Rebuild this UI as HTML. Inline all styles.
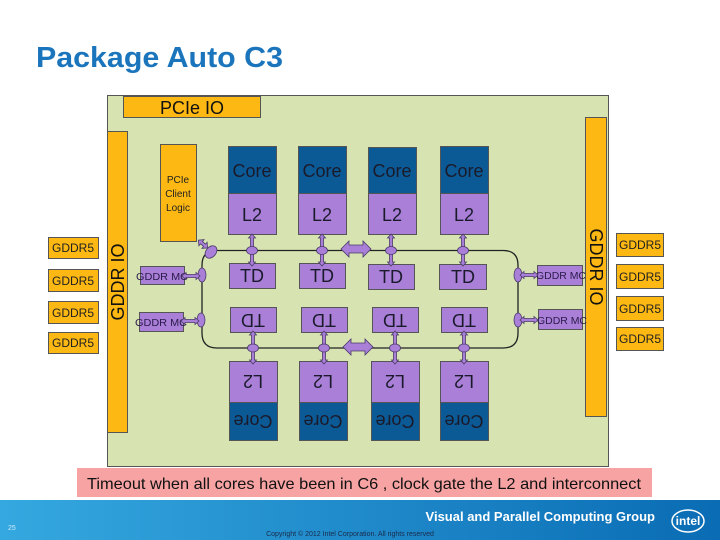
<!DOCTYPE html>
<html><head><meta charset="utf-8"><style>
html,body{margin:0;padding:0;width:720px;height:540px;overflow:hidden;background:#fff}
svg{display:block}
</style></head><body>
<svg width="720" height="540" viewBox="0 0 720 540" xmlns="http://www.w3.org/2000/svg" font-family="Liberation Sans, sans-serif">
<defs>
<linearGradient id="ft" x1="0" y1="0" x2="1" y2="0">
<stop offset="0" stop-color="#35a8e0"/><stop offset="1" stop-color="#0a6cb4"/>
</linearGradient>
<g id="varr"><path d="M0,-9 L3.5,-5 L1.5,-5 L1.5,5 L3.5,5 L0,9 L-3.5,5 L-1.5,5 L-1.5,-5 L-3.5,-5 Z" fill="#a97fd8" stroke="#4a3a6a" stroke-width="0.8"/></g>
<g id="harr"><path d="M-9,0 L-5,-3.5 L-5,-1.5 L5,-1.5 L5,-3.5 L9,0 L5,3.5 L5,1.5 L-5,1.5 L-5,3.5 Z" fill="#a97fd8" stroke="#4a3a6a" stroke-width="0.8"/></g>
<g id="bigh"><path d="M-15,0 L-7,-8 L-7,-4 L7,-4 L7,-8 L15,0 L7,8 L7,4 L-7,4 L-7,8 Z" fill="#a97fd8" stroke="#4a3a6a" stroke-width="0.8"/></g>
</defs>
<text x="36" y="67" font-size="29" font-weight="bold" fill="#1b75bc" textLength="247" lengthAdjust="spacingAndGlyphs">Package Auto C3</text>

<rect x="107.5" y="95.5" width="501" height="371" fill="#d7e4b2" stroke="#555" stroke-width="1"/>
<rect x="123.5" y="96.5" width="137" height="21" fill="#fdb813" stroke="#555"/>
<text x="192" y="114" font-size="18" text-anchor="middle" fill="#111">PCIe IO</text>

<rect x="107.5" y="131.5" width="20" height="301" fill="#fdb813" stroke="#555"/>
<text transform="translate(124,282) rotate(-90)" font-size="18" text-anchor="middle" fill="#111">GDDR IO</text>
<rect x="585.5" y="117.5" width="21" height="299" fill="#fdb813" stroke="#555"/>
<text transform="translate(590,267) rotate(90)" font-size="18" text-anchor="middle" fill="#111">GDDR IO</text>

<rect x="160.5" y="144.5" width="36" height="97" fill="#fdb813" stroke="#555"/>
<text x="178" y="183" font-size="10" text-anchor="middle" fill="#222">PCIe</text>
<text x="178" y="197" font-size="10" text-anchor="middle" fill="#222">Client</text>
<text x="178" y="211" font-size="10" text-anchor="middle" fill="#222">Logic</text>

<!-- bus -->
<path d="M217,250.5 L503,250.5 Q518,250.5 518,265 L518,333 Q518,348 503,348 L217,348 Q202,348 202,333 L202,265 Q202,250.5 217,250.5 Z" fill="none" stroke="#222" stroke-width="1.3"/>

<!-- columns -->
<g stroke="#555" stroke-width="1">
<rect x="228.5" y="146.5" width="48" height="47" fill="#0b5a96"/><rect x="228.5" y="193.5" width="48" height="41" fill="#a97fd8"/>
<rect x="298.5" y="146.5" width="48" height="47" fill="#0b5a96"/><rect x="298.5" y="193.5" width="48" height="41" fill="#a97fd8"/>
<rect x="368.5" y="147.5" width="48" height="46" fill="#0b5a96"/><rect x="368.5" y="193.5" width="48" height="41" fill="#a97fd8"/>
<rect x="440.5" y="146.5" width="48" height="47" fill="#0b5a96"/><rect x="440.5" y="193.5" width="48" height="41" fill="#a97fd8"/>
<rect x="229.5" y="263.5" width="46" height="25" fill="#a97fd8"/>
<rect x="299.5" y="263.5" width="46" height="25" fill="#a97fd8"/>
<rect x="368.5" y="264.5" width="46" height="25" fill="#a97fd8"/>
<rect x="439.5" y="264.5" width="47" height="25" fill="#a97fd8"/>
<rect x="230.5" y="307.5" width="46" height="25" fill="#a97fd8"/>
<rect x="301.5" y="307.5" width="46" height="25" fill="#a97fd8"/>
<rect x="372.5" y="307.5" width="46" height="25" fill="#a97fd8"/>
<rect x="441.5" y="307.5" width="46" height="25" fill="#a97fd8"/>
<rect x="229.5" y="361.5" width="48" height="41" fill="#a97fd8"/><rect x="229.5" y="402.5" width="48" height="38" fill="#0b5a96"/>
<rect x="299.5" y="361.5" width="48" height="41" fill="#a97fd8"/><rect x="299.5" y="402.5" width="48" height="38" fill="#0b5a96"/>
<rect x="371.5" y="361.5" width="48" height="41" fill="#a97fd8"/><rect x="371.5" y="402.5" width="48" height="38" fill="#0b5a96"/>
<rect x="440.5" y="361.5" width="48" height="41" fill="#a97fd8"/><rect x="440.5" y="402.5" width="48" height="38" fill="#0b5a96"/>
</g>
<g font-size="18" text-anchor="middle" fill="#1a1a2a">
<text x="252" y="177">Core</text><text x="322" y="177">Core</text><text x="392" y="177">Core</text><text x="464" y="177">Core</text>
<text x="252" y="221">L2</text><text x="322" y="221">L2</text><text x="392" y="221">L2</text><text x="464" y="221">L2</text>
<text x="252" y="282">TD</text><text x="322" y="282">TD</text><text x="391" y="283">TD</text><text x="463" y="283">TD</text>
</g>
<g font-size="18" text-anchor="middle" fill="#1a1a2a">
<text transform="translate(253,314) rotate(180)">TD</text>
<text transform="translate(324,314) rotate(180)">TD</text>
<text transform="translate(395,314) rotate(180)">TD</text>
<text transform="translate(464,314) rotate(180)">TD</text>
<text transform="translate(253,375) rotate(180)">L2</text>
<text transform="translate(323,375) rotate(180)">L2</text>
<text transform="translate(395,375) rotate(180)">L2</text>
<text transform="translate(464,375) rotate(180)">L2</text>
<text transform="translate(253,415) rotate(180)">Core</text>
<text transform="translate(323,415) rotate(180)">Core</text>
<text transform="translate(395,415) rotate(180)">Core</text>
<text transform="translate(464,415) rotate(180)">Core</text>
</g>

<!-- vertical arrows & ovals -->
<g>
<use href="#varr" x="252" y="243"/><use href="#varr" x="252" y="257"/>
<use href="#varr" x="322" y="243"/><use href="#varr" x="322" y="257"/>
<use href="#varr" x="391" y="243"/><use href="#varr" x="391" y="257"/>
<use href="#varr" x="463" y="243"/><use href="#varr" x="463" y="257"/>
<use href="#varr" x="253" y="340"/><use href="#varr" x="253" y="355"/>
<use href="#varr" x="324" y="340"/><use href="#varr" x="324" y="355"/>
<use href="#varr" x="395" y="340"/><use href="#varr" x="395" y="355"/>
<use href="#varr" x="464" y="340"/><use href="#varr" x="464" y="355"/>
</g>
<g fill="#a97fd8" stroke="#4a3a6a" stroke-width="0.8">
<ellipse cx="252" cy="250.5" rx="5.5" ry="4"/><ellipse cx="322" cy="250.5" rx="5.5" ry="4"/>
<ellipse cx="391" cy="250.5" rx="5.5" ry="4"/><ellipse cx="463" cy="250.5" rx="5.5" ry="4"/>
<ellipse cx="253" cy="348" rx="5.5" ry="4"/><ellipse cx="324" cy="348" rx="5.5" ry="4"/>
<ellipse cx="395" cy="348" rx="5.5" ry="4"/><ellipse cx="464" cy="348" rx="5.5" ry="4"/>
<ellipse cx="202" cy="275" rx="4" ry="7"/><ellipse cx="201" cy="320" rx="4" ry="7"/>
<ellipse cx="518" cy="275" rx="4" ry="7"/><ellipse cx="518" cy="320" rx="4" ry="7"/>
<ellipse cx="211" cy="252" rx="5" ry="7" transform="rotate(40 211 252)"/>
</g>
<use href="#bigh" x="356" y="249"/>
<use href="#bigh" x="358" y="347"/>
<g transform="translate(203,244) rotate(40)"><path d="M-6,0 L-2,-4 L-2,-1.5 L2,-1.5 L2,-4 L6,0 L2,4 L2,1.5 L-2,1.5 L-2,4 Z" fill="#a97fd8" stroke="#4a3a6a" stroke-width="0.8"/></g>

<!-- GDDR MC -->
<g stroke="#555" fill="#a97fd8">
<rect x="140.5" y="266.5" width="44" height="18"/>
<rect x="139.5" y="312.5" width="44" height="19"/>
<rect x="537.5" y="265.5" width="45" height="20"/>
<rect x="538.5" y="309.5" width="44" height="20"/>
</g>
<g font-size="10" fill="#2a1a4a">
<text x="136" y="280" textLength="52" lengthAdjust="spacingAndGlyphs">GDDR MC</text>
<text x="135" y="326" textLength="52" lengthAdjust="spacingAndGlyphs">GDDR MC</text>
<text x="536" y="279" textLength="50" lengthAdjust="spacingAndGlyphs">GDDR MC</text>
<text x="537" y="324" textLength="50" lengthAdjust="spacingAndGlyphs">GDDR MC</text>
</g>
<use href="#harr" x="191" y="276" transform="translate(0,0)"/>
<use href="#harr" x="190" y="321"/>
<use href="#harr" x="529" y="275"/>
<use href="#harr" x="529" y="320"/>

<!-- GDDR5 -->
<g stroke="#555" fill="#fdb813">
<rect x="48.5" y="237.5" width="50" height="21"/><rect x="48.5" y="269.5" width="50" height="22"/>
<rect x="48.5" y="301.5" width="50" height="22"/><rect x="48.5" y="332.5" width="50" height="21"/>
<rect x="616.5" y="233.5" width="47" height="23"/><rect x="616.5" y="264.5" width="47" height="24"/>
<rect x="616.5" y="296.5" width="47" height="24"/><rect x="616.5" y="327.5" width="47" height="23"/>
</g>
<g font-size="12" fill="#222" text-anchor="middle">
<text x="73" y="252">GDDR5</text><text x="73" y="285">GDDR5</text><text x="73" y="317">GDDR5</text><text x="73" y="347">GDDR5</text>
<text x="640" y="249">GDDR5</text><text x="640" y="281">GDDR5</text><text x="640" y="313">GDDR5</text><text x="640" y="343">GDDR5</text>
</g>

<rect x="77" y="468" width="575" height="29" fill="#f7a3a3"/>
<text x="364" y="489" font-size="16" text-anchor="middle" fill="#111" textLength="554" lengthAdjust="spacingAndGlyphs">Timeout when all cores have been in C6 , clock gate the L2 and interconnect</text>

<rect x="0" y="500" width="720" height="40" fill="url(#ft)"/>
<text x="8" y="530" font-size="7" fill="#cfe8f8">25</text>
<text x="655" y="521" font-size="13" font-weight="bold" fill="#fff" text-anchor="end">Visual and Parallel Computing Group</text>
<text x="350" y="536" font-size="7" fill="#1a2a4a" text-anchor="middle">Copyright © 2012 Intel Corporation. All rights reserved</text>
<ellipse cx="688" cy="521" rx="16" ry="11" fill="none" stroke="#fff" stroke-width="1.5"/>
<text x="688" y="525" font-size="12" font-weight="bold" fill="#fff" text-anchor="middle">intel</text>
</svg>
</body></html>
